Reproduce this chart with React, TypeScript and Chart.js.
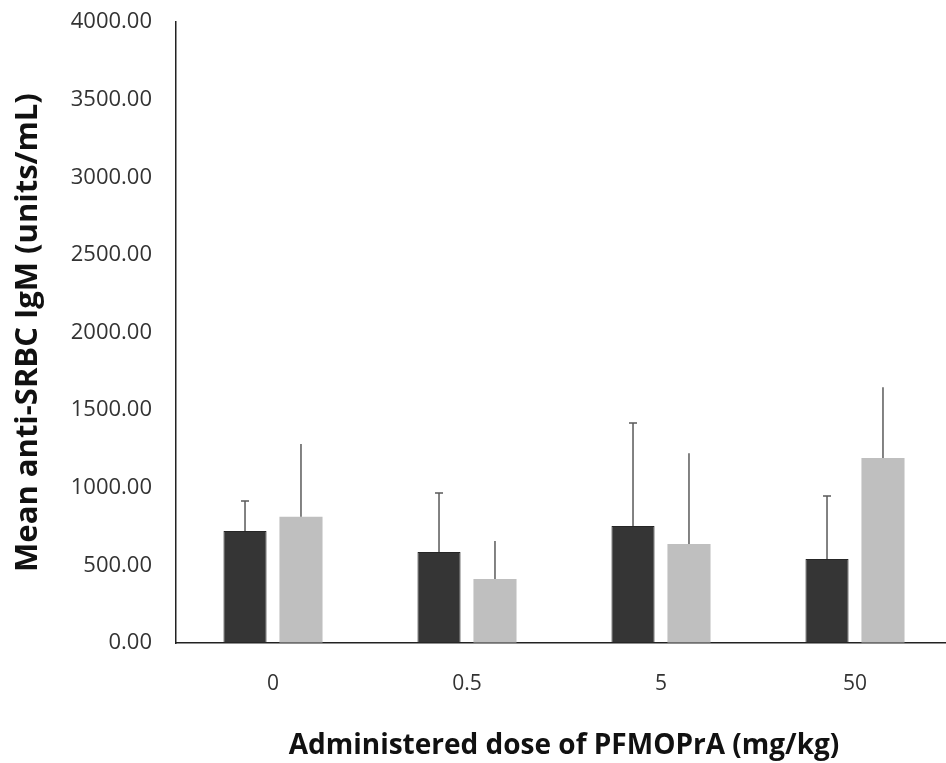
import React, { useEffect, useRef } from "react";
import { Chart, registerables } from "chart.js";

Chart.register(...registerables);

const categories = ["0", "0.5", "5", "50"];
const darkValues = [721, 586, 753, 541];
const darkErrors = [194, 380, 664, 406];
const lightValues = [813, 412, 637, 1191];
const lightErrors = [468, 245, 586, 457];
const yTicks = [0, 500, 1000, 1500, 2000, 2500, 3000, 3500, 4000];

const errorBarPlugin = {
  id: "errorBars",
  afterDatasetsDraw(chart: any) {
    const ctx = chart.ctx;
    const yScale = chart.scales.y;
    chart.data.datasets.forEach((ds: any, di: number) => {
      const meta = chart.getDatasetMeta(di);
      meta.data.forEach((bar: any, i: number) => {
        const v = ds.data[i];
        const e = ds.errors[i];
        const yTop = yScale.getPixelForValue(v + e);
        const yBase = yScale.getPixelForValue(v);
        ctx.save();
        ctx.strokeStyle = "#5a5a5a";
        ctx.lineWidth = 1.5;
        ctx.beginPath();
        ctx.moveTo(bar.x, yBase);
        ctx.lineTo(bar.x, yTop);
        if (ds.cap) {
          ctx.moveTo(bar.x - 4, yTop);
          ctx.lineTo(bar.x + 4, yTop);
        }
        ctx.stroke();
        ctx.restore();
      });
    });
  },
};

export default function App() {
  const ref = useRef<HTMLCanvasElement | null>(null);
  useEffect(() => {
    if (!ref.current) return;
    const chart = new Chart(ref.current, {
      type: "bar",
      data: {
        labels: categories,
        datasets: [
          {
            label: "dark",
            data: darkValues,
            errors: darkErrors,
            cap: true,
            backgroundColor: "#353535",
            borderColor: "#262626",
            borderWidth: 1,
            barPercentage: 0.77,
            categoryPercentage: 0.577,
          } as any,
          {
            label: "light",
            data: lightValues,
            errors: lightErrors,
            cap: false,
            backgroundColor: "#bfbfbf",
            borderWidth: 0,
            barPercentage: 0.77,
            categoryPercentage: 0.577,
          } as any,
        ],
      },
      plugins: [errorBarPlugin],
      options: {
        animation: false,
        responsive: false,
        maintainAspectRatio: false,
        layout: { padding: { top: 22, right: 0, left: 0, bottom: 0 } },
        plugins: { legend: { display: false }, tooltip: { enabled: false } },
        scales: {
          x: {
            grid: { display: false, drawTicks: false },
            border: { display: true, color: "#222", width: 1.5 },
            ticks: {
              color: "#333",
              font: { family: "Open Sans", size: 21 },
              padding: 28,
            },
            title: {
              display: true,
              text: "Administered dose of PFMOPrA (mg/kg)",
              color: "#111",
              font: { family: "Open Sans", size: 28, weight: "bold" },
              padding: { top: 18, bottom: 0 },
            },
            afterFit(scale: any) {
              scale.height = 120;
            },
          },
          y: {
            min: 0,
            max: 4000,
            afterBuildTicks(scale: any) {
              scale.ticks = yTicks.map((v) => ({ value: v }));
            },
            grid: {
              display: true,
              drawOnChartArea: false,
              drawTicks: true,
              tickLength: 24,
              tickColor: "rgba(0,0,0,0)",
            },
            border: { display: true, color: "#222", width: 1.5 },
            ticks: {
              color: "#333",
              font: { family: "Open Sans", size: 22 },
              padding: 0,
              callback: (v: any) => Number(v).toFixed(2),
            },
            title: {
              display: true,
              text: "Mean anti-SRBC IgM (units/mL)",
              color: "#111",
              font: { family: "Open Sans", size: 31, weight: "bold" },
              padding: { top: 10, bottom: 0 },
            },
            afterFit(scale: any) {
              scale.width = 176;
            },
          },
        },
      },
    } as any);
    return () => chart.destroy();
  }, []);
  return (
    <div
      style={{
        position: "fixed",
        left: 0,
        top: 0,
        width: 946,
        height: 763,
        overflow: "hidden",
        background: "#fff",
      }}
    >
      <canvas ref={ref} width={952} height={763} style={{ display: "block" }} />
    </div>
  );
}
